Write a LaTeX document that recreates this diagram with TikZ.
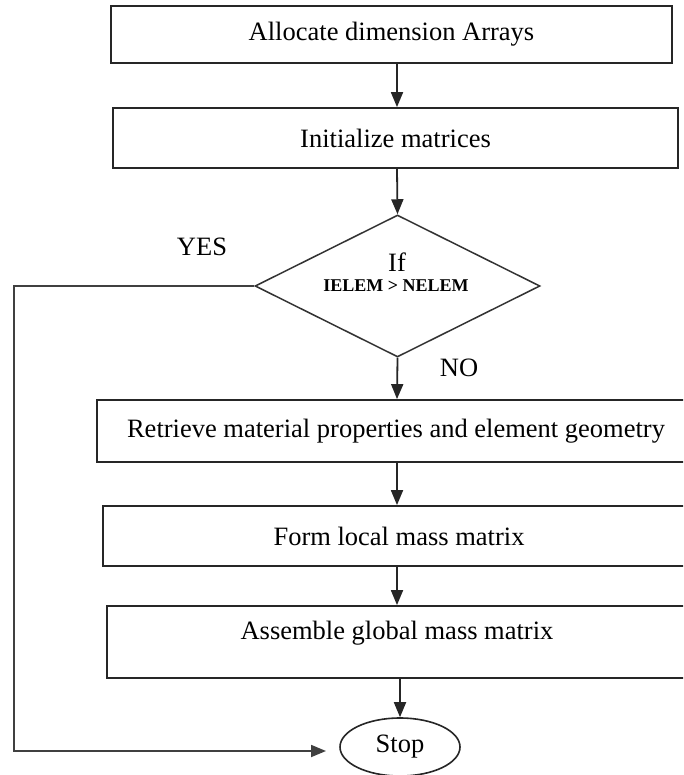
\documentclass[tikz,border=0pt]{standalone}
\usepackage{fontspec}
\setmainfont{Liberation Serif}
\usetikzlibrary{shapes.geometric,arrows.meta}
\begin{document}
\begin{tikzpicture}[x=1pt,y=-1pt,
  every node/.style={font=\fontsize{26.5}{30}\selectfont, text=black},
  procbox/.style={draw=black!85, line width=1.8pt, rectangle, inner sep=0pt},
  decision/.style={draw=black!80, line width=1.5pt, diamond, inner sep=0pt},
  terminal/.style={draw=black!85, line width=1.6pt, ellipse, inner sep=0pt},
  smalltag/.style={font=\fontsize{18}{21}\selectfont\bfseries, inner sep=0pt},
  flow/.style={draw=black!85, line width=1.8pt, -{Triangle[width=12pt,length=15pt]}},
  loopflow/.style={draw=black!75, line width=1.8pt, -{Triangle[width=12pt,length=15pt]}}
]
% page area
\clip (0,0) rectangle (683,775);
\fill[white] (0,0) rectangle (683,775);

% main vertical axis of the flow
\coordinate (axis) at (397,0);

% process steps
\node[procbox, minimum width=561pt, minimum height=57pt] (alloc) at (391.5,34.5) {Allocate dimension Arrays};
\node[procbox, minimum width=565pt, minimum height=60pt] (init) at (395.5,138) {Initialize matrices};

% decision
\node[decision, minimum width=285pt, minimum height=142pt] (dec) at (397.5,286) {};
\node[inner sep=0pt] (iftxt) at (397,262) {If};
\node[smalltag] (condtxt) at (396,286) {IELEM > NELEM};
\node[inner sep=0pt] (yes) at (202,247) {YES};
\node[inner sep=0pt] (no) at (459,368) {NO};

\node[procbox, minimum width=598pt, minimum height=62pt] (retr) at (396,431) {Retrieve material properties and element geometry};
\node[procbox, minimum width=592pt, minimum height=60pt] (local) at (399,536) {Form local mass matrix};
\node[procbox, minimum width=580pt, minimum height=72pt] (asm) at (397,642) {};
\node[inner sep=0pt] (asmtxt) at (397,633) {Assemble global mass matrix};

% terminal
\node[terminal, minimum width=120pt, minimum height=58pt] (stop) at (400,747) {Stop};

% connectors
\draw[flow] (alloc.south -| axis) -- (init.north -| axis);
\draw[flow] (init.south -| axis) -- (dec.north);
\draw[flow] (dec.south) -- (retr.north -| axis);
\draw[flow] (retr.south -| axis) -- (local.north -| axis);
\draw[flow] (local.south -| axis) -- (asm.north -| axis);
\draw[flow] (asm.south -| stop) -- (stop.north);

% YES branch back to the terminal
\coordinate (cornerA) at (14,286);
\coordinate (cornerB) at (14,751);
\coordinate (stopin) at (326,751);
\draw[loopflow] (dec.west) -- (cornerA) -- (cornerB) -- (stopin);
\end{tikzpicture}
\end{document}
